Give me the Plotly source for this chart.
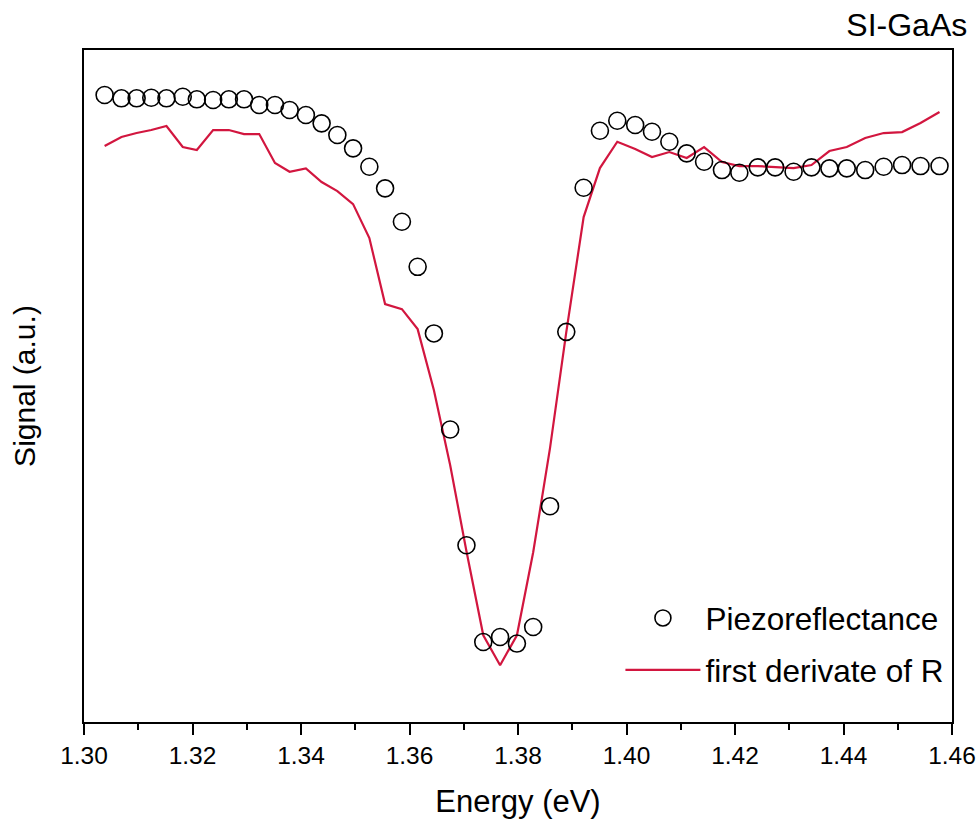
import plotly.graph_objects as go

# Energy (eV) sampling points shared by both series
energy = [1.3038, 1.3069, 1.3097, 1.3124, 1.3152, 1.3182, 1.3208, 1.3238, 1.3267, 1.3295,
          1.3323, 1.3352, 1.3379, 1.3409, 1.3438, 1.3467, 1.3496, 1.3526, 1.3555, 1.3586,
          1.3615, 1.3645, 1.3675, 1.3705, 1.3736, 1.3767, 1.3798, 1.3828, 1.3859, 1.3889,
          1.3921, 1.3951, 1.3983, 1.4016, 1.4047, 1.4079, 1.4111, 1.4143, 1.4176, 1.4208,
          1.4242, 1.4274, 1.4308, 1.4341, 1.4374, 1.4406, 1.4440, 1.4474, 1.4508, 1.4542,
          1.4577]

# Piezoreflectance signal (a.u.)
piezo = [626.7, 623.4, 623.4, 624.0, 623.4, 625.0, 622.4, 621.7, 622.4, 622.4,
         616.7, 616.7, 611.7, 606.7, 598.4, 586.7, 573.4, 555.0, 533.4, 500.0,
         455.0, 388.4, 292.4, 176.7, 80.0, 85.0, 78.4, 95.0, 215.7, 390.0,
         534.0, 591.0, 601.0, 596.7, 590.0, 580.0, 568.4, 560.0, 551.7, 549.0,
         554.4, 554.4, 550.0, 554.4, 553.4, 553.4, 551.7, 555.0, 556.7, 555.7,
         555.7]

# First derivative of R (a.u.)
deriv = [575.7, 584.7, 588.7, 591.7, 595.7, 574.7, 571.7, 591.7, 591.7, 587.7,
         587.7, 558.7, 550.0, 553.4, 539.7, 530.7, 517.7, 483.7, 417.7, 412.7,
         392.7, 331.7, 256.7, 170.7, 86.7, 56.7, 86.7, 169.7, 273.7, 389.7,
         504.7, 553.7, 580.0, 572.7, 564.7, 569.7, 563.7, 574.7, 559.7, 555.7,
         555.7, 554.7, 553.7, 556.7, 570.7, 574.7, 583.7, 588.7, 589.7, 598.7,
         609.7]

FONT = "Liberation Sans, Arial, sans-serif"
RED = "#d2163f"

fig = go.Figure()
fig.add_trace(go.Scatter(
    x=energy, y=deriv, mode="lines", name="first derivate of R",
    line=dict(color=RED, width=2.2), legendrank=2, legendgroup="b"))
fig.add_trace(go.Scatter(
    x=energy, y=piezo, mode="markers", name="Piezoreflectance",
    marker=dict(symbol="circle-open", size=17, color="black",
                line=dict(color="black", width=1.6)),
    legendrank=1, legendgroup="a"))

fig.update_layout(
    width=980, height=821,
    margin=dict(l=84, r=28, t=50, b=99, autoexpand=False),
    paper_bgcolor="white", plot_bgcolor="white",
    font=dict(family=FONT, color="black"),
    title=dict(text="SI-GaAs", x=0.987, xanchor="right", xref="container",
               y=0.97, yanchor="middle", yref="container",
               font=dict(size=32, family=FONT, color="black")),
    showlegend=True,
    legend=dict(x=0.618, y=0.195, xanchor="left", yanchor="top",
                font=dict(size=31.5, family=FONT, color="black"),
                bgcolor="rgba(0,0,0,0)", itemwidth=75, tracegroupgap=8),
    xaxis=dict(range=[1.30, 1.46], tickvals=[1.30, 1.32, 1.34, 1.36, 1.38, 1.40, 1.42, 1.44, 1.46],
               ticktext=["1.30", "1.32", "1.34", "1.36", "1.38", "1.40", "1.42", "1.44", "1.46"],
               ticks="outside", ticklen=11, tickwidth=2, tickcolor="black",
               minor=dict(dtick=0.01, tick0=1.30, ticks="outside", ticklen=6, tickwidth=2, tickcolor="black"),
               showline=True, linewidth=2, linecolor="black", mirror=True,
               showgrid=False, zeroline=False, automargin=False,
               tickfont=dict(size=24.5, family=FONT, color="black"),
               title=dict(text="Energy (eV)", font=dict(size=31, family=FONT, color="black"), standoff=22)),
    yaxis=dict(range=[0, 671.7], showticklabels=False, ticks="",
               showline=True, linewidth=2, linecolor="black", mirror=True,
               showgrid=False, zeroline=False, automargin=False,
               title=dict(text="Signal (a.u.)", font=dict(size=30, family=FONT, color="black"), standoff=38)),
)

fig.write_html("out.html")
